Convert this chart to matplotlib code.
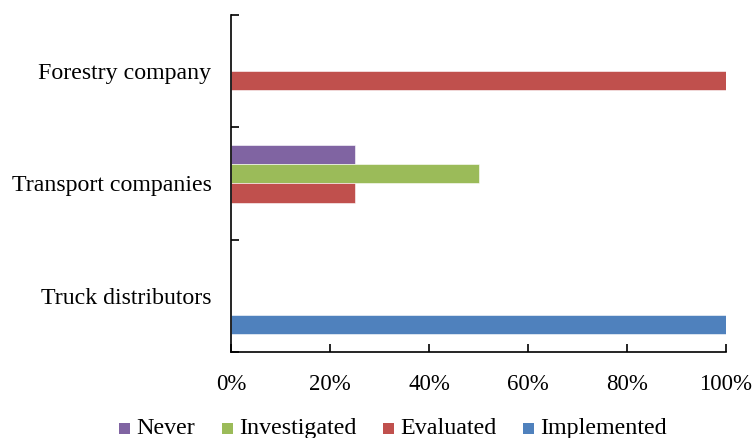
import matplotlib
matplotlib.use("Agg")
import matplotlib.pyplot as plt
from matplotlib.patches import Rectangle
import numpy as np

plt.rcParams['font.family'] = ['Liberation Serif', 'DejaVu Serif']

categories = ["Truck distributors", "Transport companies", "Forestry company"]
series_names = ["Never", "Investigated", "Evaluated", "Implemented"]
never = [0, 25, 0]
investigated = [0, 50, 0]
evaluated = [0, 25, 100]
implemented = [100, 0, 0]
x_ticks = [0, 20, 40, 60, 80, 100]

colors = {"Never": "#8064A2", "Investigated": "#9BBB59",
          "Evaluated": "#C0504D", "Implemented": "#4F81BD"}

fig = plt.figure(figsize=(7.54, 4.38), dpi=100)
W, H = 754, 438
ax = fig.add_axes([231 / W, 1 - 352 / H, (726 - 231) / W, (352 - 15) / H])

y = np.arange(len(categories))
h = 0.17
offsets = [1.5 * h, 0.5 * h, -0.5 * h, -1.5 * h]
values = [never, investigated, evaluated, implemented]
for name, vals, off in zip(series_names, values, offsets):
    ax.barh(y + off, vals, height=h, color=colors[name],
            edgecolor="white", linewidth=0.4)

ax.set_xlim(0, 100)
ax.set_ylim(-0.5, len(categories) - 0.5)

ax.set_xticks(x_ticks)
ax.set_xticklabels([f"{t}%" for t in x_ticks])
ax.set_yticks(y)
ax.set_yticklabels(categories)
ax.set_yticks(np.arange(len(categories) + 1) - 0.5, minor=True)

ax.tick_params(axis="x", direction="in", length=6, width=1.2, pad=16,
               labelsize=16.5)
ax.tick_params(axis="y", which="major", length=0, pad=14, labelsize=17.2)
ax.tick_params(axis="y", which="minor", direction="in", length=6, width=1.2)

for side in ("top", "right"):
    ax.spines[side].set_visible(False)
for side in ("left", "bottom"):
    ax.spines[side].set_linewidth(1.2)

# Legend row along the bottom, laid out on a shared text baseline
renderer = fig.canvas.get_renderer()
x_px = 119
baseline_px = 434
box = 11
gap = 6
for name in series_names:
    fig.patches.append(Rectangle((x_px / W, 1 - baseline_px / H), box / W, box / H,
                                 transform=fig.transFigure, facecolor=colors[name],
                                 edgecolor="none"))
    t = fig.text((x_px + box + gap) / W, 1 - baseline_px / H, name,
                 fontsize=17.3, ha="left", va="baseline")
    width = t.get_window_extent(renderer).width
    x_px += box + gap + width + 27

fig.savefig("out.png", dpi=100)
